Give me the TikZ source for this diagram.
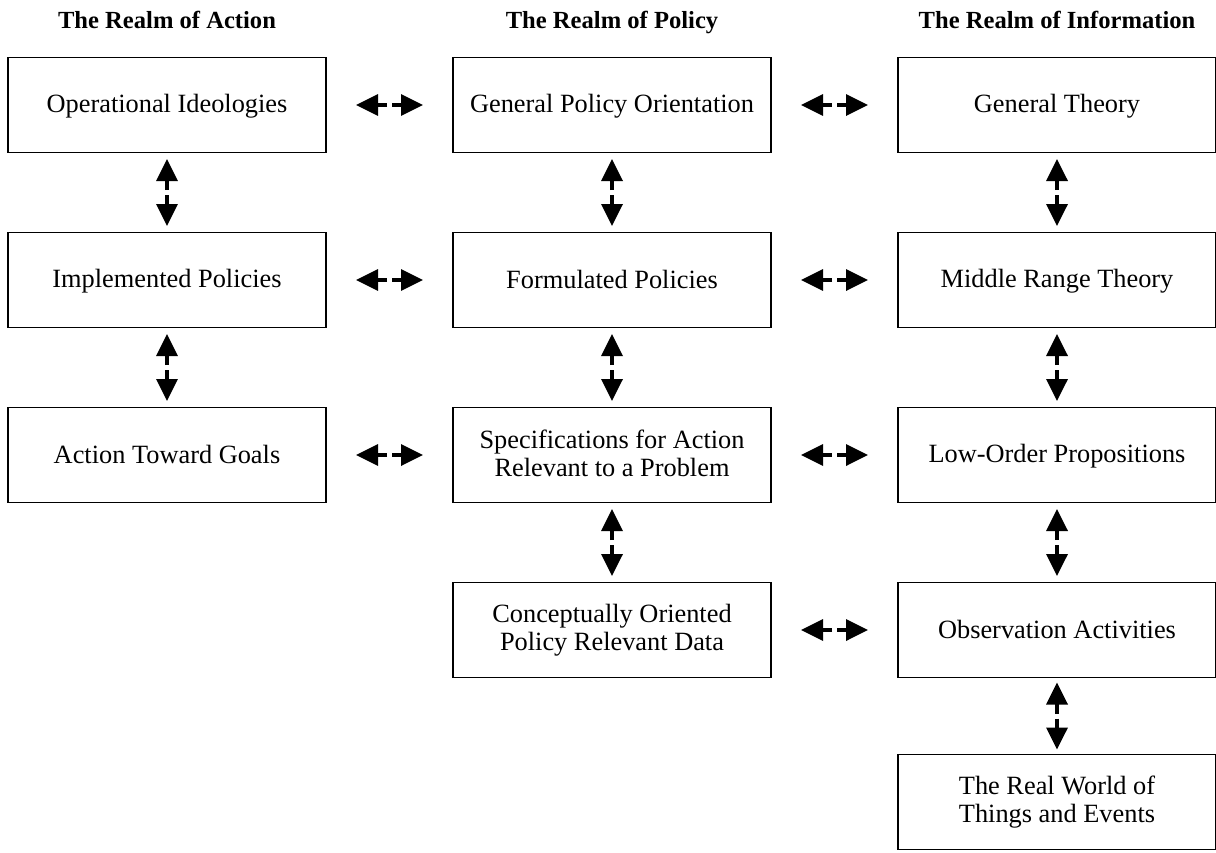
\documentclass[tikz,border=0pt]{standalone}
\usepackage{fontspec}
\setmainfont{Liberation Serif}
\usetikzlibrary{arrows.meta,calc}
\tikzset{box/.style={draw, line width=1.1pt, minimum width=6.36cm, minimum height=1.9cm,
    align=center, inner sep=0pt, font=\fontsize{15}{16}\selectfont,
    execute at begin node=\rule{0pt}{11.9pt}, execute at end node=\rule[-2pt]{0pt}{2pt}}}
\tikzset{realm/.style={anchor=base, font=\fontsize{14}{16}\selectfont\bfseries}}
\tikzset{tip/.style={line width=2pt, -{Triangle[length=0.44cm,width=0.42cm]}}}
\newcommand{\twoway}[2]{%
  \coordinate (m) at ($(#1)!0.5!(#2)$);
  \draw[tip] ($(m)!0.05cm!(#1)$) -- ($(m)!0.67cm!(#1)$);
  \draw[tip] ($(m)!0.05cm!(#2)$) -- ($(m)!0.67cm!(#2)$);
}

\begin{document}
\begin{tikzpicture}[x=0.02cm, y=-0.02cm]
    \useasboundingbox (0,0) rectangle (1216,852);
    \node[realm] (tact) at (167,29) {The Realm of Action};
    \node[realm] (tpol) at (612,29) {The Realm of Policy};
    \node[realm] (tinf) at (1057,29) {The Realm of Information};

    \node[box] (opid) at (167,105) {Operational Ideologies};
    \node[box] (gpo) at (612,105) {General Policy Orientation};
    \node[box] (gth) at (1057,105) {General Theory};

    \node[box] (impl) at (167,280) {Implemented Policies};
    \node[box] (formp) at (612,280) {Formulated Policies};
    \node[box] (mrt) at (1057,280) {Middle Range Theory};

    \node[box] (atg) at (167,455) {Action Toward Goals};
    \node[box] (spec) at (612,455) {Specifications for Action\\Relevant to a Problem};
    \node[box] (lop) at (1057,455) {Low-Order Propositions};

    \node[box] (cop) at (612,630) {Conceptually Oriented\\Policy Relevant Data};
    \node[box] (obs) at (1057,630) {Observation Activities};

    \node[box] (rw) at (1057,802) {The Real World of\\Things and Events};

    % across the realms
    \twoway{opid.east}{gpo.west}
    \twoway{gpo.east}{gth.west}
    \twoway{impl.east}{formp.west}
    \twoway{formp.east}{mrt.west}
    \twoway{atg.east}{spec.west}
    \twoway{spec.east}{lop.west}
    \twoway{cop.east}{obs.west}

    % within each realm
    \twoway{opid.south}{impl.north}
    \twoway{impl.south}{atg.north}
    \twoway{gpo.south}{formp.north}
    \twoway{formp.south}{spec.north}
    \twoway{spec.south}{cop.north}
    \twoway{gth.south}{mrt.north}
    \twoway{mrt.south}{lop.north}
    \twoway{lop.south}{obs.north}
    \twoway{obs.south}{rw.north}
\end{tikzpicture}
\end{document}
